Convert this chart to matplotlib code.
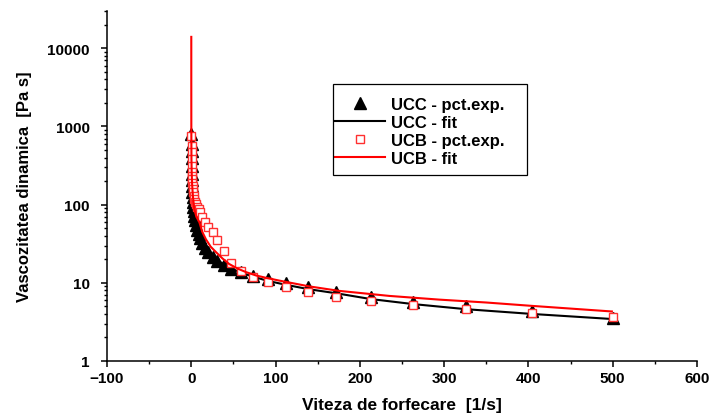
import matplotlib
matplotlib.use("Agg")
import matplotlib.pyplot as plt
from matplotlib.patches import Rectangle
from matplotlib.ticker import FixedLocator, LogLocator, NullFormatter, FuncFormatter, MultipleLocator

plt.rcParams['font.family'] = ['Liberation Sans', 'DejaVu Sans']
plt.rcParams['font.weight'] = 'bold'

# shear rates [1/s]
shear_rate = [0.229, 0.284, 0.352, 0.435, 0.539, 0.667, 0.826, 1.02, 1.27, 1.57,
              1.94, 2.40, 2.97, 3.68, 4.56, 5.64, 6.99, 8.65, 10.7, 13.3,
              16.4, 20.3, 25.2, 31.1, 38.6, 47.7, 59.1, 73.2, 90.6, 112,
              139, 172, 213, 263, 326, 404, 500]

# UCC measured viscosity [Pa s]
ucc_exp = [800, 600, 480, 390, 310, 250, 205, 172, 145, 125,
           108, 94, 82, 72, 63, 55, 48, 42, 37, 32,
           28, 24.5, 21.5, 19, 17, 15.2, 13.7, 12.3, 11.1, 9.9,
           8.8, 7.6, 6.6, 5.7, 5.05, 4.35, 3.55]

# UCB measured viscosity [Pa s]
ucb_exp = [757, 570, 470, 380, 310, 265, 230, 211, 190, 174,
           158, 144, 130, 117, 108, 102, 94, 88, 80, 69,
           60, 52, 44.5, 35.5, 25.6, 17.7, 14.0, 12.0, 10.2, 8.8,
           7.6, 6.6, 5.85, 5.2, 4.6, 4.15, 3.65]

# UCC fitted curve
ucc_fit = [800, 600, 480, 390, 310, 250, 205, 172, 148, 127,
           110, 96, 84, 73, 63.5, 55.5, 48.5, 42.5, 37, 32.5,
           28.5, 25, 22, 19.5, 17.2, 15.2, 13.5, 12.0, 10.6, 9.45,
           8.3, 7.35, 6.2, 5.35, 4.6, 4.0, 3.44]

# UCB fitted curve
ucb_fit_x = [0.002, 0.01, 0.05, 0.2, 0.5, 1.0, 2.0, 3.6, 6.0, 9.5,
             13.0, 17.4, 23.0, 29.3, 37.0, 45.0, 55.0, 65.0, 77.0, 88.6,
             104, 116, 140, 175, 235, 294, 350, 401, 499]
ucb_fit = [14000, 3500, 900, 380, 250, 180, 125, 88, 70, 60,
           45, 36, 29, 24.7, 20.5, 17.4, 15.2, 13.7, 12.4, 11.6,
           10.7, 10.1, 9.0, 7.9, 6.8, 6.1, 5.6, 5.1, 4.3]

x_ticks = [-100, 0, 100, 200, 300, 400, 500, 600]
y_ticks = [1, 10, 100, 1000, 10000]

W, H = 710, 414
fig = plt.figure(figsize=(W / 100, H / 100), dpi=100)
ax = fig.add_axes([107 / W, 1 - 362 / H, (697 - 107) / W, (362 - 12) / H])

ax.plot(shear_rate, ucc_exp, linestyle='none', marker='^', markersize=8.5,
        color='black', label='UCC - pct.exp.', zorder=3)
ax.plot(shear_rate, ucc_fit, color='black', linewidth=1.5,
        label='UCC - fit', zorder=2)
ax.plot(shear_rate, ucb_exp, linestyle='none', marker='s', markersize=6,
        markerfacecolor='white', markeredgecolor='#ff3030', markeredgewidth=1.0,
        label='UCB - pct.exp.', zorder=4)
ax.plot(ucb_fit_x, ucb_fit, color='red', linewidth=1.5,
        label='UCB - fit', zorder=5)

ax.set_yscale('log')
ax.set_xlim(-100, 600)
ax.set_ylim(1, 30000)

ax.xaxis.set_major_locator(FixedLocator(x_ticks))
ax.xaxis.set_minor_locator(MultipleLocator(50))
ax.yaxis.set_major_locator(FixedLocator(y_ticks))
ax.yaxis.set_minor_locator(LogLocator(base=10, subs=range(2, 10), numticks=20))
ax.yaxis.set_minor_formatter(NullFormatter())
ax.yaxis.set_major_formatter(FuncFormatter(lambda v, p: f"{int(round(v))}"))

for side in ('top', 'right'):
    ax.spines[side].set_visible(False)
for side in ('left', 'bottom'):
    ax.spines[side].set_linewidth(1.1)

ax.tick_params(axis='both', which='major', direction='out', length=4.5,
               width=1.1, labelsize=11)
ax.tick_params(axis='y', which='major', pad=8)
ax.tick_params(axis='x', which='major', pad=3)
ax.tick_params(axis='both', which='minor', direction='out', length=2.5, width=1.0)
for lbl in ax.get_xticklabels() + ax.get_yticklabels():
    lbl.set_fontweight('bold')

ax.set_xlabel('Viteza de forfecare  [1/s]', fontsize=12.5, fontweight='bold', labelpad=8)
ax.set_ylabel('Vascozitatea dinamica  [Pa s]', fontsize=12, fontweight='bold', labelpad=11)

# legend entries without their own frame, boxed by a plain rectangle
leg = ax.legend(loc='upper left', bbox_to_anchor=(335 / W, 1 - 98 / H),
                bbox_transform=fig.transFigure, borderaxespad=0, borderpad=0,
                frameon=False, prop={'size': 12, 'weight': 'bold'},
                handlelength=3.0, handletextpad=0.35, labelspacing=0.18,
                numpoints=1)
fig.patches.append(Rectangle((333 / W, 1 - 176 / H), (527 - 333) / W, (176 - 85) / H,
                             transform=fig.transFigure, fill=False,
                             edgecolor='black', linewidth=0.9, zorder=10))

fig.savefig('out.png', dpi=100)
